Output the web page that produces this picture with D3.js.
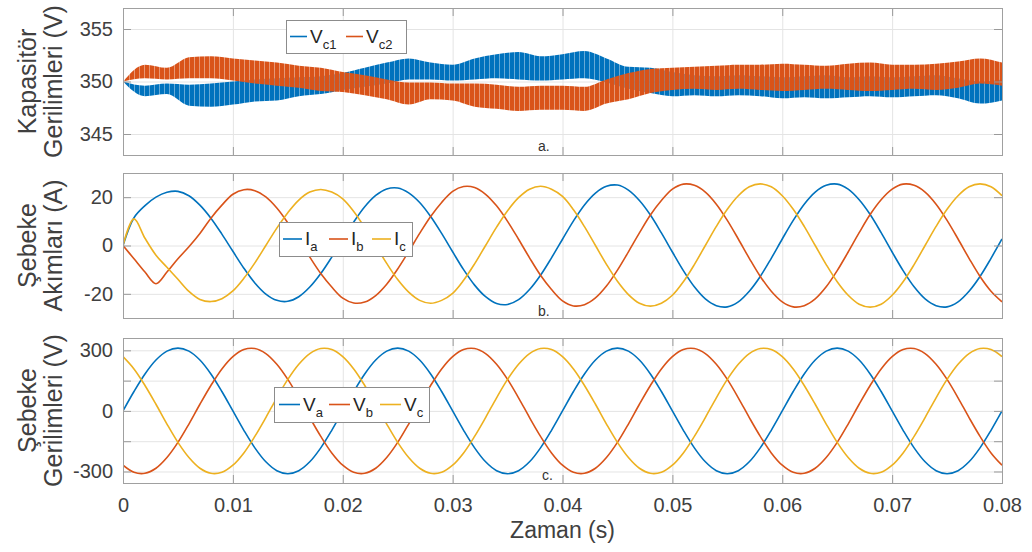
<!DOCTYPE html>
<html>
<head>
<meta charset="utf-8">
<script src="https://cdn.jsdelivr.net/npm/d3@7/dist/d3.min.js"></script>
<style>
  body { margin: 0; background: #fff; }
  svg { display: block; font-family: Arial, "Liberation Sans", sans-serif; }
  .grid line { stroke: #e4e4e4; }
  .grid path { display: none; }
  .ticks line { stroke: #9a9a9a; }
  .ticks path { display: none; }
  .ticks text { fill: #404040; font-size: 20px; font-family: Arial, "Liberation Sans", sans-serif; }
  .frame { fill: none; stroke: #a0a0a0; }
  .ylab { fill: #404040; font-size: 25px; }
  .xlab { fill: #404040; font-size: 23px; }
  .tag { fill: #333; font-size: 14px; }
  .legend rect { fill: #fff; stroke: #8c8c8c; }
  .legend text { fill: #262626; font-size: 19px; }
</style>
</head>
<body>
<svg width="1032" height="552"></svg>
<script>
// ---- data ----
const xTicks = [0, 0.01, 0.02, 0.03, 0.04, 0.05, 0.06, 0.07, 0.08];
const capTicks = [345, 350, 355];
const curTicks = [-20, 0, 20];
const volTicks = [-300, -150, 0, 150, 300];
const volTickLabels = [-300, 0, 300];

// a. capacitor voltages: ripple envelope every 2 ms
const timeA = [0, 0.002, 0.004, 0.006, 0.008, 0.010, 0.012, 0.014, 0.016, 0.018,
  0.020, 0.022, 0.024, 0.026, 0.028, 0.030, 0.032, 0.034, 0.036, 0.038,
  0.040, 0.042, 0.044, 0.046, 0.048, 0.050, 0.052, 0.054, 0.056, 0.058,
  0.060, 0.062, 0.064, 0.066, 0.068, 0.070, 0.072, 0.074, 0.076, 0.078, 0.080];
const vc1Max = [350, 349.6, 349.8, 349.7, 349.8, 350.0, 350.2, 350.3, 350.4, 350.5,
  350.8, 351.3, 351.8, 352.2, 351.8, 351.6, 352.2, 352.6, 352.8, 352.4,
  352.6, 352.9, 352.2, 351.4, 351.3, 350.9, 350.6, 350.5, 350.6, 350.5,
  350.4, 350.5, 350.6, 350.4, 350.5, 350.4, 350.5, 350.6, 350.3, 350.0, 350.2];
const vc1Min = [350, 348.6, 348.8, 347.7, 347.6, 347.8, 348.1, 348.2, 348.6, 348.8,
  349.2, 349.5, 349.8, 350.2, 350.2, 350.1, 350.2, 350.3, 350.2, 350.1,
  350.2, 350.3, 349.9, 349.3, 348.9, 348.6, 348.7, 348.6, 348.7, 348.6,
  348.4, 348.5, 348.4, 348.5, 348.6, 348.5, 348.6, 348.7, 348.4, 347.9, 348.2];
const vc2Max = [350, 351.6, 351.3, 352.3, 352.4, 352.2, 352.0, 351.8, 351.5, 351.3,
  350.9, 350.6, 350.2, 349.9, 349.9, 349.8, 349.8, 349.7, 349.5, 349.6,
  349.6, 349.5, 350.2, 350.8, 351.2, 351.3, 351.4, 351.5, 351.6, 351.6,
  351.7, 351.6, 351.5, 351.7, 351.8, 351.6, 351.6, 351.7, 351.9, 352.2, 351.8];
const vc2Min = [350, 350.3, 350.2, 350.3, 350.3, 350.1, 349.8, 349.6, 349.4, 349.1,
  349.0, 348.7, 348.3, 347.8, 348.3, 348.2, 347.6, 347.4, 347.2, 347.3,
  347.3, 347.2, 347.9, 348.3, 348.9, 349.2, 349.3, 349.2, 349.3, 349.2,
  349.1, 349.2, 349.3, 349.2, 349.1, 349.2, 349.3, 349.2, 349.4, 349.8, 349.6];

// b. and c. sampled every 1 ms
const timeB = [0, 0.001, 0.002, 0.003, 0.004, 0.005, 0.006, 0.007, 0.008, 0.009,
  0.010, 0.011, 0.012, 0.013, 0.014, 0.015, 0.016, 0.017, 0.018, 0.019,
  0.020, 0.021, 0.022, 0.023, 0.024, 0.025, 0.026, 0.027, 0.028, 0.029,
  0.030, 0.031, 0.032, 0.033, 0.034, 0.035, 0.036, 0.037, 0.038, 0.039,
  0.040, 0.041, 0.042, 0.043, 0.044, 0.045, 0.046, 0.047, 0.048, 0.049,
  0.050, 0.051, 0.052, 0.053, 0.054, 0.055, 0.056, 0.057, 0.058, 0.059,
  0.060, 0.061, 0.062, 0.063, 0.064, 0.065, 0.066, 0.067, 0.068, 0.069,
  0.070, 0.071, 0.072, 0.073, 0.074, 0.075, 0.076, 0.077, 0.078, 0.079, 0.080];

const ia = [0, 11.5, 16.5, 20, 22.0, 22.4, 20.6, 16.7, 11.3, 4.7,
  -2.4, -9.4, -15.5, -20.1, -22.7, -23.1, -21.2, -17.2, -11.6, -4.8,
  2.5, 9.7, 16.0, 20.7, 23.4, 23.8, 21.8, 17.8, 12.0, 5.0,
  -2.6, -10.0, -16.4, -21.2, -24.0, -24.4, -22.4, -18.2, -12.3, -5.1,
  2.6, 10.2, 16.8, 21.7, 24.5, 25.0, 22.9, 18.6, 12.6, 5.2,
  -2.7, -10.4, -17.1, -22.1, -24.9, -25.4, -23.3, -18.9, -12.8, -5.3,
  2.7, 10.4, 17.1, 22.1, 24.9, 25.4, 23.3, 18.9, 12.8, 5.3,
  -2.7, -10.4, -17.1, -22.1, -24.9, -25.4, -23.3, -18.9, -12.8, -5.3,
  2.7];
const ib = [0, -5.5, -11, -15.8, -11, -5.5, -0.5, 5, 11.3, 16.7,
  21.2, 23.1, 22.7, 20.1, 15.5, 9.4, 2.4, -4.8, -11.6, -17.2,
  -21.8, -23.8, -23.4, -20.7, -16.0, -9.7, -2.5, 5.0, 12.0, 17.8,
  22.4, 24.4, 24.0, 21.2, 16.4, 10.0, 2.6, -5.1, -12.3, -18.2,
  -22.9, -25.0, -24.5, -21.7, -16.8, -10.2, -2.6, 5.2, 12.6, 18.6,
  23.3, 25.4, 24.9, 22.1, 17.1, 10.4, 2.7, -5.3, -12.8, -18.9,
  -23.3, -25.4, -24.9, -22.1, -17.1, -10.4, -2.7, 5.3, 12.8, 18.9,
  23.3, 25.4, 24.9, 22.1, 17.1, 10.4, 2.7, -5.3, -12.8, -18.9,
  -23.3];
const ic = [0, 11, 3, -4, -9, -14, -19, -22.3, -23.2, -22,
  -18.8, -13.6, -7.2, 0, 7.2, 13.6, 18.8, 22.1, 23.2, 22.1,
  19.3, 14.1, 7.4, 0, -7.4, -14.1, -19.3, -22.7, -23.9, -22.7,
  -19.8, -14.4, -7.6, 0, 7.6, 14.4, 19.8, 23.3, 24.5, 23.3,
  20.3, 14.8, 7.8, 0, -7.8, -14.8, -20.3, -23.9, -25.1, -23.9,
  -20.6, -15.0, -7.9, 0, 7.9, 15.0, 20.6, 24.3, 25.5, 24.3,
  20.6, 15.0, 7.9, 0, -7.9, -15.0, -20.6, -24.3, -25.5, -24.3,
  -20.6, -15.0, -7.9, 0, 7.9, 15.0, 20.6, 24.3, 25.5, 24.3,
  20.6];

const va = [0, 96, 183, 252, 296, 311, 296, 252, 183, 96, 0, -96, -183, -252, -296, -311, -296, -252, -183, -96,
  0, 96, 183, 252, 296, 311, 296, 252, 183, 96, 0, -96, -183, -252, -296, -311, -296, -252, -183, -96,
  0, 96, 183, 252, 296, 311, 296, 252, 183, 96, 0, -96, -183, -252, -296, -311, -296, -252, -183, -96,
  0, 96, 183, 252, 296, 311, 296, 252, 183, 96, 0, -96, -183, -252, -296, -311, -296, -252, -183, -96,
  0];
const vb = [-269, -304, -309, -284, -231, -156, -65, 33, 126, 208, 269, 304, 309, 284, 231, 156, 65, -33, -126, -208,
  -269, -304, -309, -284, -231, -156, -65, 33, 126, 208, 269, 304, 309, 284, 231, 156, 65, -33, -126, -208,
  -269, -304, -309, -284, -231, -156, -65, 33, 126, 208, 269, 304, 309, 284, 231, 156, 65, -33, -126, -208,
  -269, -304, -309, -284, -231, -156, -65, 33, 126, 208, 269, 304, 309, 284, 231, 156, 65, -33, -126, -208,
  -269];
const vc = [269, 208, 126, 33, -65, -156, -231, -284, -309, -304, -269, -208, -126, -33, 65, 156, 231, 284, 309, 304,
  269, 208, 126, 33, -65, -156, -231, -284, -309, -304, -269, -208, -126, -33, 65, 156, 231, 284, 309, 304,
  269, 208, 126, 33, -65, -156, -231, -284, -309, -304, -269, -208, -126, -33, 65, 156, 231, 284, 309, 304,
  269, 208, 126, 33, -65, -156, -231, -284, -309, -304, -269, -208, -126, -33, 65, 156, 231, 284, 309, 304,
  269];

const blue = "#0072BD", orange = "#D95319", yellow = "#EDB120";

// ---- layout ----
const svg = d3.select("svg");
const x0 = 123, x1 = 1002;
const x = d3.scaleLinear().domain([0, 0.08]).range([x0, x1]);

// striped fill so the ripple bands look like dense switching spikes
const defs = svg.append("defs");
[["rip-blue", blue], ["rip-orange", orange]].forEach(function(p) {
  const pat = defs.append("pattern").attr("id", p[0])
    .attr("patternUnits", "userSpaceOnUse").attr("width", 5).attr("height", 40);
  pat.append("rect").attr("width", 4).attr("height", 40).attr("fill", p[1]);
  pat.append("rect").attr("x", 4).attr("width", 1).attr("height", 40)
    .attr("fill", p[1]).attr("fill-opacity", 0.6);
});

const panels = [
  { id: "a", top: 8, bottom: 155, domain: [343, 357], ticks: capTicks, labels: capTicks,
    ylab: ["Kapasitör", "Gerilimleri (V)"], tagX: 538, tagY: 151 },
  { id: "b", top: 173, bottom: 318, domain: [-30, 30], ticks: curTicks, labels: curTicks,
    ylab: ["Şebeke", "Akımları (A)"], tagX: 538, tagY: 316 },
  { id: "c", top: 338, bottom: 483, domain: [-357, 361], ticks: volTicks, labels: volTickLabels,
    ylab: ["Şebeke", "Gerilimleri (V)"], tagX: 542, tagY: 480 }
];

panels.forEach(function(p, idx) {
  const h = p.bottom - p.top;
  const y = d3.scaleLinear().domain(p.domain).range([p.bottom, p.top]);
  p.y = y;

  svg.append("g").attr("class", "grid")
      .attr("transform", "translate(0," + p.bottom + ")")
      .call(d3.axisBottom(x).tickValues(xTicks).tickSize(-h).tickFormat(""));
  svg.append("g").attr("class", "grid")
      .attr("transform", "translate(" + x0 + ",0)")
      .call(d3.axisLeft(y).tickValues(p.ticks).tickSize(-(x1 - x0)).tickFormat(""));

  svg.append("clipPath").attr("id", "clip-" + p.id)
    .append("rect").attr("x", x0).attr("y", p.top).attr("width", x1 - x0).attr("height", h);
  p.g = svg.append("g").attr("clip-path", "url(#clip-" + p.id + ")");

  // inward ticks on all four sides
  const last = idx === panels.length - 1;
  svg.append("g").attr("class", "ticks")
      .attr("transform", "translate(0," + p.bottom + ")")
      .call(d3.axisBottom(x).tickValues(xTicks).tickSize(-8).tickPadding(15)
        .tickFormat(last ? d3.format("") : ""));
  svg.append("g").attr("class", "ticks")
      .attr("transform", "translate(0," + p.top + ")")
      .call(d3.axisTop(x).tickValues(xTicks).tickSize(-8).tickFormat(""));
  svg.append("g").attr("class", "ticks")
      .attr("transform", "translate(" + x0 + ",0)")
      .call(d3.axisLeft(y).tickValues(p.ticks).tickSize(-8).tickPadding(10)
        .tickFormat(function(d) { return p.labels.indexOf(d) >= 0 ? d : ""; }));
  svg.append("g").attr("class", "ticks")
      .attr("transform", "translate(" + x1 + ",0)")
      .call(d3.axisRight(y).tickValues(p.ticks).tickSize(-8).tickFormat(""));

  const yl = svg.append("text").attr("class", "ylab")
      .attr("text-anchor", "middle")
      .attr("transform", "translate(0," + (p.top + p.bottom) / 2 + ") rotate(-90)");
  yl.append("tspan").attr("x", 0).attr("y", 36).text(p.ylab[0]);
  yl.append("tspan").attr("x", 0).attr("y", 62).text(p.ylab[1]);
});

// ---- a. capacitor voltage ripple bands ----
const pa = panels[0];
function band(lo, hi) {
  return timeA.map(function(t, i) { return { t: t, lo: lo[i], hi: hi[i] }; });
}
const bandArea = d3.area()
  .x(function(d) { return x(d.t); })
  .y0(function(d) { return pa.y(d.lo); })
  .y1(function(d) { return pa.y(d.hi); })
  .curve(d3.curveMonotoneX);
pa.g.append("path").datum(band(vc1Min, vc1Max)).attr("d", bandArea)
  .attr("fill", "url(#rip-blue)");
pa.g.append("path").datum(band(vc2Min, vc2Max)).attr("d", bandArea)
  .attr("fill", "url(#rip-orange)");

// ---- b. and c. phase lines ----
function drawLines(p, series) {
  const line = d3.line()
    .x(function(d, i) { return x(timeB[i]); })
    .y(function(d) { return p.y(d); })
    .curve(d3.curveCatmullRom.alpha(0.5));
  series.forEach(function(s) {
    p.g.append("path").datum(s.values).attr("d", line)
      .attr("fill", "none").attr("stroke", s.color).attr("stroke-width", 1.6);
  });
}
drawLines(panels[1], [{ values: ia, color: blue }, { values: ib, color: orange }, { values: ic, color: yellow }]);
drawLines(panels[2], [{ values: va, color: blue }, { values: vb, color: orange }, { values: vc, color: yellow }]);

// frames on top
panels.forEach(function(p) {
  svg.append("rect").attr("class", "frame")
    .attr("x", x0 + 0.5).attr("y", p.top + 0.5)
    .attr("width", x1 - x0).attr("height", p.bottom - p.top);
  svg.append("text").attr("class", "tag").attr("x", p.tagX).attr("y", p.tagY).text(p.id + ".");
});

// ---- legends ----
function legend(box, lineLen, entries) {
  const g = svg.append("g").attr("class", "legend");
  g.append("rect").attr("x", box[0] + 0.5).attr("y", box[1] + 0.5)
    .attr("width", box[2] - box[0]).attr("height", box[3] - box[1]);
  const cy = (box[1] + box[3]) / 2;
  entries.forEach(function(e) {
    g.append("line").attr("x1", e.x).attr("x2", e.x + lineLen)
      .attr("y1", cy).attr("y2", cy)
      .attr("stroke", e.color).attr("stroke-width", 1.6);
    const t = g.append("text").attr("x", e.x + lineLen + 3).attr("y", cy + 6);
    t.append("tspan").text(e.main);
    t.append("tspan").attr("dy", 6).attr("font-size", 13).text(e.sub);
  });
}
legend([286, 20, 406, 53], 17, [
  { x: 290, color: blue, main: "V", sub: "c1" },
  { x: 346, color: orange, main: "V", sub: "c2" }
]);
legend([279, 222, 412, 256], 19, [
  { x: 283, color: blue, main: "I", sub: "a" },
  { x: 329, color: orange, main: "I", sub: "b" },
  { x: 372, color: yellow, main: "I", sub: "c" }
]);
legend([274, 387, 429, 422], 21, [
  { x: 279, color: blue, main: "V", sub: "a" },
  { x: 329, color: orange, main: "V", sub: "b" },
  { x: 380, color: yellow, main: "V", sub: "c" }
]);

svg.append("text").attr("class", "xlab")
  .attr("x", (x0 + x1) / 2).attr("y", 538)
  .attr("text-anchor", "middle").text("Zaman (s)");
</script>
</body>
</html>
